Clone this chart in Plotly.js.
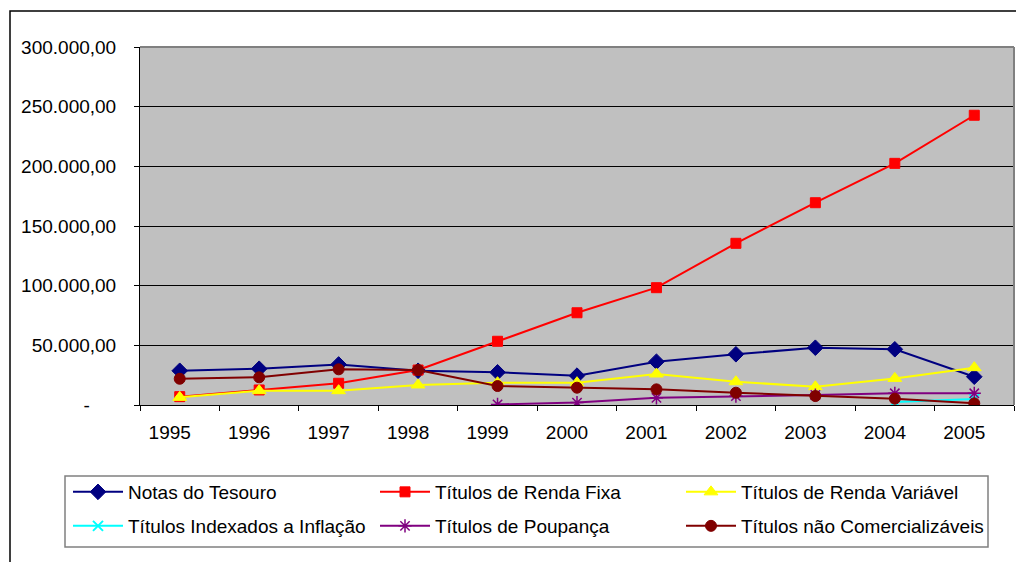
<!DOCTYPE html>
<html>
<head>
<meta charset="utf-8">
<script src="https://cdn.plot.ly/plotly-3.0.1.min.js"></script>
<style>html,body{margin:0;padding:0;background:#fff;}#chart{width:1016px;height:562px;}</style>
</head>
<body>
<div id="chart"></div>
<script>
const years = ['1995','1996','1997','1998','1999','2000','2001','2002','2003','2004','2005'];
const notasTesouro = [28700, 30400, 34000, 28700, 27400, 24600, 36300, 42500, 48000, 46700, 23700];
const rendaFixa = [7000, 12600, 18200, 29300, 53400, 77300, 98300, 135500, 169500, 202500, 242800];
const rendaVariavel = [6400, 12000, 12000, 16800, 18700, 18700, 26000, 19500, 15300, 22300, 31300];
const indexadosInflacao = [null, null, null, null, null, null, null, null, null, 2500, 5000];
const poupanca = [null, null, null, null, 500, 2000, 6000, 7500, 8400, 9800, 9800];
const naoComercializaveis = [22000, 23200, 29900, 29300, 15900, 14500, 13100, 10300, 7500, 5300, 1400];
const seriesNames = ['Notas do Tesouro','Títulos de Renda Fixa','Títulos de Renda Variável','Títulos Indexados a Inflação','Títulos de Poupança','Títulos não Comercializáveis'];
const yTickVals = [0, 50000, 100000, 150000, 200000, 250000, 300000];
const yTickText = ['-\u00a0\u00a0\u00a0\u00a0\u00a0', '50.000,00', '100.000,00', '150.000,00', '200.000,00', '250.000,00', '300.000,00'];

const FONT = '"Liberation Sans", Arial, sans-serif';
function tr(y, name, color, symbol, size, legend, extra) {
  return Object.assign({
    x: years, y: y, name: name, type: 'scatter', mode: 'lines+markers',
    line: {color: color, width: 2},
    marker: {color: color, symbol: symbol, size: size, line: {color: color, width: 1}},
    legend: legend, connectgaps: false, hoverinfo: 'skip'
  }, extra || {});
}
const data = [
  tr(notasTesouro, seriesNames[0], '#000080', 'diamond', 12, 'legend'),
  tr(rendaFixa, seriesNames[1], '#FF0000', 'square', 10, 'legend2'),
  tr(rendaVariavel, seriesNames[2], '#FFFF00', 'triangle-up', 12, 'legend3'),
  tr(indexadosInflacao, seriesNames[3], '#00FFFF', 'x-thin-open', 10, 'legend4', {marker:{color:'#00FFFF', symbol:'x-thin-open', size:10, line:{color:'#00FFFF', width:2}}}),
  tr(poupanca, seriesNames[4], '#800080', 'asterisk-open', 11, 'legend5', {marker:{color:'#800080', symbol:'asterisk-open', size:11, line:{color:'#800080', width:1.5}}}),
  tr(naoComercializaveis, seriesNames[5], '#800000', 'circle', 11, 'legend6')
];

const legendCommon = {
  orientation: 'h', xref: 'container', yref: 'container',
  xanchor: 'left', yanchor: 'middle',
  bgcolor: 'rgba(0,0,0,0)', borderwidth: 0,
  font: {family: FONT, size: 19, color: '#000'},
  itemwidth: 50,
  traceorder: 'normal', itemclick: false, itemdoubleclick: false
};
function leg(px, py) { return Object.assign({}, legendCommon, {x: px/1016, y: 1 - py/562}); }
const colX = [68, 375, 681];
const rowY = [492, 526];

const layout = {
  width: 1016, height: 562,
  margin: {l: 140, r: 2, t: 47, b: 157, pad: 0},
  paper_bgcolor: '#FFFFFF', plot_bgcolor: '#C0C0C0',
  font: {family: FONT, size: 19, color: '#000'},
  showlegend: true,
  legend: leg(colX[0], rowY[0]),
  legend2: leg(colX[1], rowY[0]),
  legend3: leg(colX[2], rowY[0]),
  legend4: leg(colX[0], rowY[1]),
  legend5: leg(colX[1], rowY[1]),
  legend6: leg(colX[2], rowY[1]),
  xaxis: {
    type: 'category', range: [-0.5, 10.5], autorange: false,
    tickson: 'boundaries', ticks: 'outside', ticklen: 5,
    tickcolor: '#000', tickwidth: 1, showline: true, linecolor: '#000', linewidth: 1,
    showgrid: false, zeroline: false, ticklabelstandoff: 10, ticklabelshift: -10,
    tickfont: {family: FONT, size: 19, color: '#000'}, fixedrange: true
  },
  yaxis: {
    range: [0, 300000], autorange: false, tickmode: 'array', tickvals: yTickVals, ticktext: yTickText,
    ticks: 'outside', ticklen: 5, tickcolor: '#000', showline: true, linecolor: '#000', linewidth: 1,
    showgrid: true, gridcolor: '#000', gridwidth: 1, zeroline: false, ticklabelstandoff: 14,
    tickfont: {family: FONT, size: 19, color: '#000'}, fixedrange: true
  },
  shapes: [
    {type: 'line', xref: 'paper', yref: 'paper', x0: 0, x1: 1, y0: 1, y1: 1, line: {color: '#808080', width: 2}, layer: 'above'},
    {type: 'line', xref: 'paper', yref: 'paper', x0: 1, x1: 1, y0: 0, y1: 1, line: {color: '#808080', width: 2}, layer: 'above'},
    {type: 'rect', xref: 'paper', yref: 'paper', x0: (65-140)/874, x1: (988-140)/874, y0: (405-547)/358, y1: (405-476)/358, line: {color: '#808080', width: 1.5}, fillcolor: 'rgba(0,0,0,0)', layer: 'above'},
    {type: 'rect', xref: 'paper', yref: 'paper', x0: (10-140)/874, x1: (1040-140)/874, y0: (405-600)/358, y1: (405-11)/358, line: {color: '#000', width: 1.5}, fillcolor: 'rgba(0,0,0,0)', layer: 'above'}
  ]
};

Plotly.newPlot('chart', data, layout, {displayModeBar: false, staticPlot: true});
</script>
</body>
</html>
